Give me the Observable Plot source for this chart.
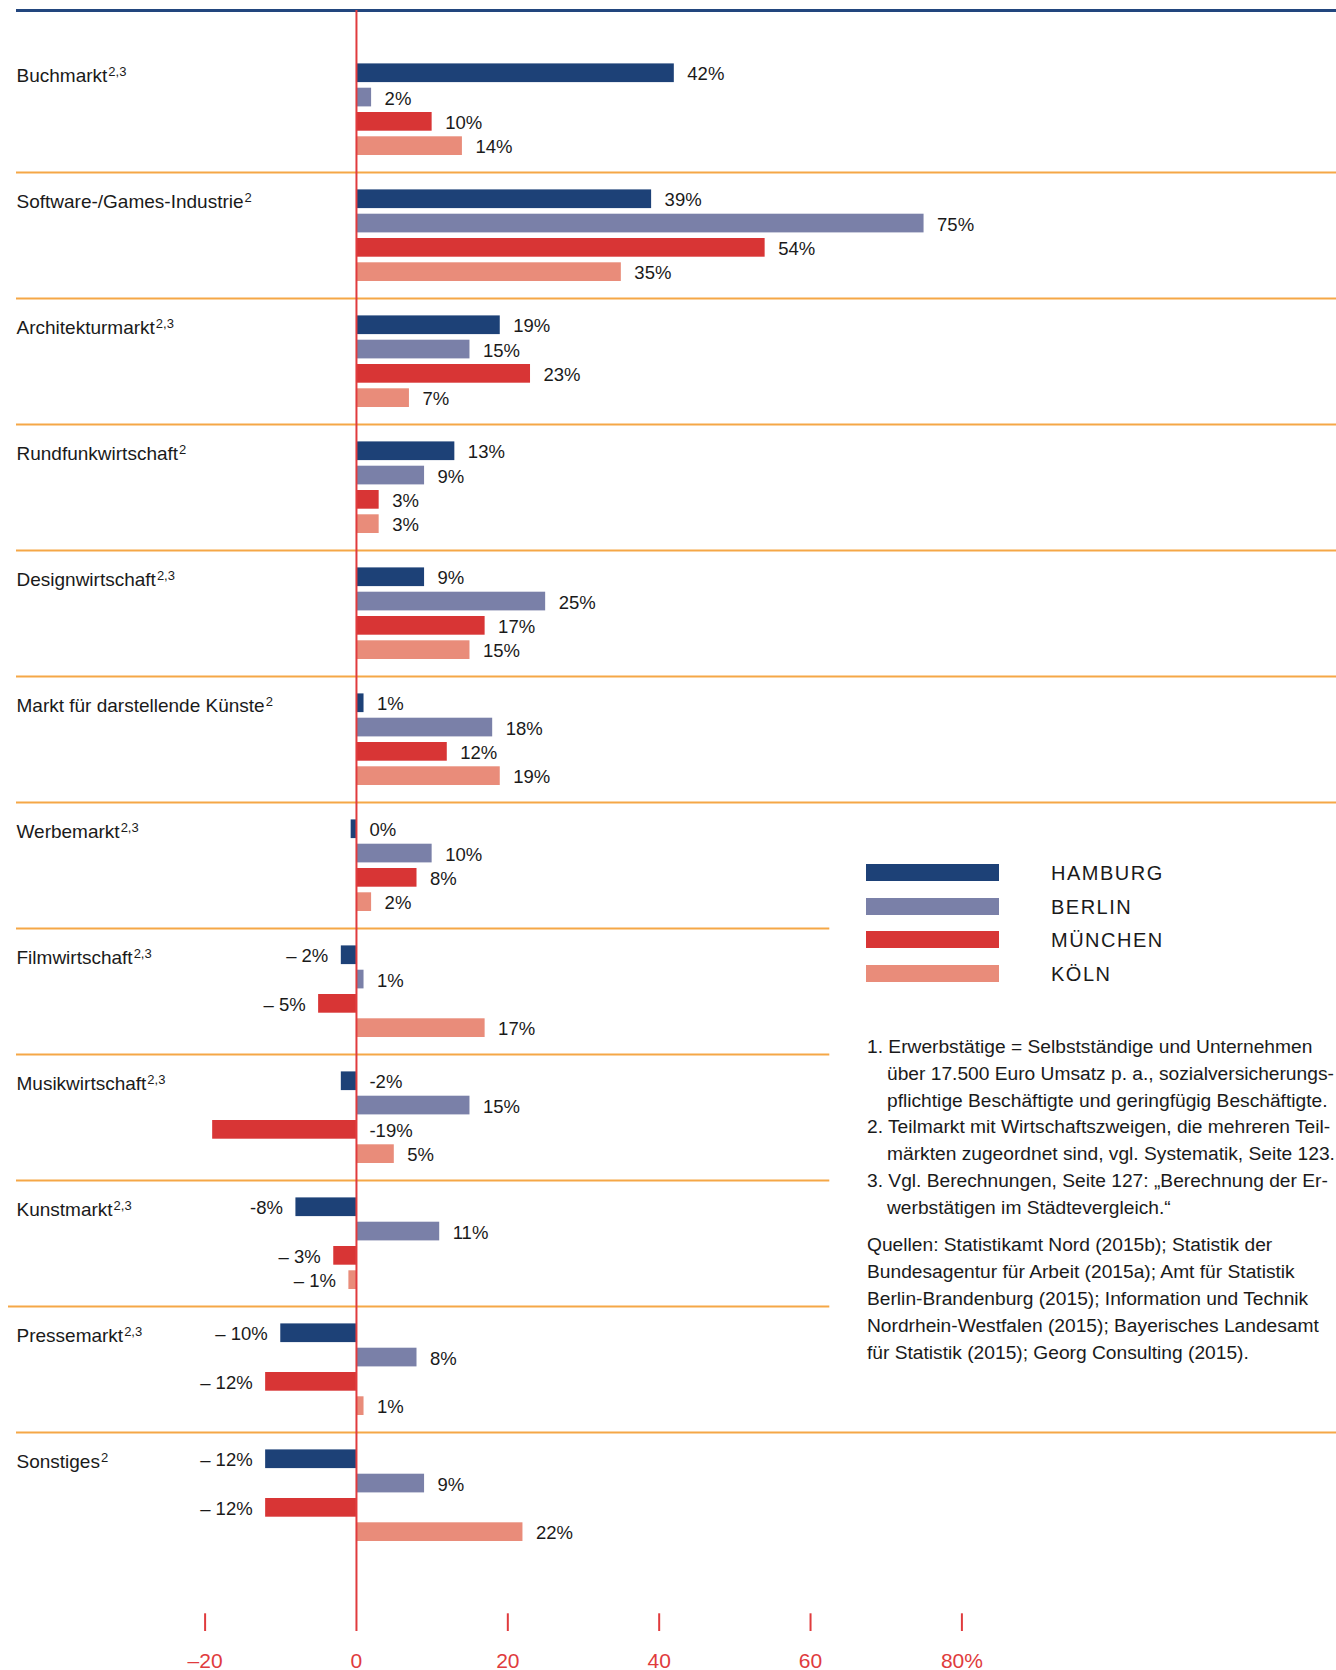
<!DOCTYPE html>
<html>
<head>
<meta charset="utf-8">
<script src="https://cdn.jsdelivr.net/npm/d3@7"></script>
<script src="https://cdn.jsdelivr.net/npm/@observablehq/plot@0.6"></script>
<style>
  html, body { margin: 0; padding: 0; background: #fff; overflow: hidden; }
  #wrap { position: relative; width: 1336px; height: 1670px; }
  #wrap svg { display: block; }
  .legend-row { position: absolute; left: 0; height: 17px; }
  .legend-swatch { position: absolute; left: 0; top: 0; width: 133px; height: 17px; }
  .legend-label { position: absolute; left: 185px; top: 1px; line-height: 17px; font-size: 20px;
    letter-spacing: 1.5px; color: #1a1a1a; font-family: "Liberation Sans", Arial, sans-serif; white-space: nowrap; }
  #notes { position: absolute; left: 867px; top: 1034px; font-family: "Liberation Sans", Arial, sans-serif;
    font-size: 19.2px; line-height: 26.8px; color: #1a1a1a; white-space: nowrap; }
  #notes .fn { padding-left: 20px; text-indent: -20px; }
  #notes .src { margin-top: 10.8px; }
</style>
</head>
<body>
<div id="wrap"></div>
<script>
// ---------------- data ----------------
const categories = [
  "Buchmarkt", "Software-/Games-Industrie", "Architekturmarkt", "Rundfunkwirtschaft",
  "Designwirtschaft", "Markt für darstellende Künste", "Werbemarkt", "Filmwirtschaft",
  "Musikwirtschaft", "Kunstmarkt", "Pressemarkt", "Sonstiges"
];
const categoryNotes = ["2,3", "2", "2,3", "2", "2,3", "2", "2,3", "2,3", "2,3", "2,3", "2,3", "2"];

const cities = ["Hamburg", "Berlin", "München", "Köln"];
const cityColors = ["#1d4177", "#7a80a8", "#d83535", "#e98c7a"];

const hamburg  = [42, 39, 19, 13, 9, 1, -0.7, -2, -2, -8, -10, -12];
const berlin   = [2, 75, 15, 9, 25, 18, 10, 1, 15, 11, 8, 9];
const muenchen = [10, 54, 23, 3, 17, 12, 8, -5, -19, -3, -12, -12];
const koeln    = [14, 35, 7, 3, 15, 19, 2, 17, 5, -1, 1, 22];

const hamburgLabels  = ["42%", "39%", "19%", "13%", "9%", "1%", "0%", "– 2%", "-2%", "-8%", "– 10%", "– 12%"];
const berlinLabels   = ["2%", "75%", "15%", "9%", "25%", "18%", "10%", "1%", "15%", "11%", "8%", "9%"];
const muenchenLabels = ["10%", "54%", "23%", "3%", "17%", "12%", "8%", "– 5%", "-19%", "– 3%", "– 12%", "– 12%"];
const koelnLabels    = ["14%", "35%", "7%", "3%", "15%", "19%", "2%", "17%", "5%", "– 1%", "1%", "22%"];

// negative values whose label sits to the right of the zero line
const labelRightOverrides = [["Werbemarkt", "Hamburg"], ["Musikwirtschaft", "Hamburg"], ["Musikwirtschaft", "München"]];

const xTicks = [-20, 0, 20, 40, 60, 80];
const xTickLabels = ["–20", "0", "20", "40", "60", "80%"];

const shortSeparatorCats = ["Filmwirtschaft", "Musikwirtschaft", "Kunstmarkt"];
const offsetSeparatorCats = ["Pressemarkt"];

const footnotes = [
  ["1. Erwerbstätige = Selbstständige und Unternehmen", "über 17.500 Euro Umsatz p. a., sozialversicherungs-", "pflichtige Beschäftigte und geringfügig Beschäftigte."],
  ["2. Teilmarkt mit Wirtschaftszweigen, die mehreren Teil-", "märkten zugeordnet sind, vgl. Systematik, Seite 123."],
  ["3. Vgl. Berechnungen, Seite 127: „Berechnung der Er-", "werbstätigen im Städtevergleich.“"]
];
const sources = [
  "Quellen: Statistikamt Nord (2015b); Statistik der",
  "Bundesagentur für Arbeit (2015a); Amt für Statistik",
  "Berlin-Brandenburg (2015); Information und Technik",
  "Nordrhein-Westfalen (2015); Bayerisches Landesamt",
  "für Statistik (2015); Georg Consulting (2015)."
];

// ---------------- table ----------------
const seriesValues = [hamburg, berlin, muenchen, koeln];
const seriesLabels = [hamburgLabels, berlinLabels, muenchenLabels, koelnLabels];
const rows = [];
cities.forEach((city, ci) => {
  categories.forEach((cat, k) => {
    const v = seriesValues[ci][k];
    const override = labelRightOverrides.some(([c, s]) => c === cat && s === city);
    rows.push({category: cat, city, value: v, label: seriesLabels[ci][k], right: v >= 0 || override});
  });
});

// ---------------- layout ----------------
const W = 1336, H = 1670;
const groupTop = 46.3, G = 126.0;
const pad = 17.4, barStep = 24.3, barH = 18.7;
const topLineY = 10.3;
const marginTop = 10, marginBottom = H - 1631;
const tickTop = 1613.3;
const shortSepRight = 829.3;

const navy = "#22467e", orange = "#f5a747", red = "#e03b3d", ink = "#1a1a1a";
const font = "'Liberation Sans', Arial, sans-serif";

const marks = [];

// top rule
marks.push(Plot.ruleY([categories[0]], {stroke: navy, strokeWidth: 2.8, dy: topLineY - (groupTop + G / 2)}));

// separators between categories
const sepFull = categories.slice(1).filter(c => !shortSeparatorCats.includes(c) && !offsetSeparatorCats.includes(c));
marks.push(Plot.ruleY(sepFull, {stroke: orange, strokeWidth: 2, dy: -G / 2}));
marks.push(Plot.ruleY(shortSeparatorCats, {stroke: orange, strokeWidth: 2, dy: -G / 2, insetRight: W - shortSepRight}));
marks.push(Plot.ruleY(offsetSeparatorCats, {stroke: orange, strokeWidth: 2, dy: -G / 2, insetRight: W - shortSepRight, insetLeft: -8}));

// bars + value labels
cities.forEach((city, i) => {
  const data = rows.filter(r => r.city === city);
  const top = pad + i * barStep;
  marks.push(Plot.barX(data, {
    y: "category", x: "value", fill: "city",
    insetTop: top, insetBottom: G - top - barH
  }));
  const base = top + barH - 2.4 - G / 2;
  marks.push(Plot.text(data.filter(d => d.right), {
    y: "category", x: d => Math.max(0, d.value), text: "label",
    textAnchor: "start", lineAnchor: "bottom", dx: 13, dy: base,
    fill: ink, fontSize: 18.5, fontFamily: font, ariaLabel: "value-label"
  }));
  marks.push(Plot.text(data.filter(d => !d.right), {
    y: "category", x: "value", text: "label",
    textAnchor: "end", lineAnchor: "bottom", dx: -13, dy: base,
    fill: ink, fontSize: 18.5, fontFamily: font, ariaLabel: "value-label"
  }));
});

// zero line and ticks
marks.push(Plot.ruleX([0], {stroke: red, strokeWidth: 2}));
marks.push(Plot.ruleX(xTicks.filter(d => d !== 0), {stroke: red, strokeWidth: 2, insetTop: tickTop - marginTop}));
marks.push(Plot.text(xTicks, {
  x: d => d, text: (d, i) => xTickLabels[i], frameAnchor: "bottom", lineAnchor: "bottom", dy: 36.3,
  fill: red, fontSize: 21, fontFamily: font, ariaLabel: "tick-label"
}));

// category labels
marks.push(Plot.text(categories, {
  y: d => d, text: d => d, frameAnchor: "left", textAnchor: "start", lineAnchor: "bottom",
  dy: pad + barH - 1 - G / 2, fill: ink, fontSize: 19, fontFamily: font
}));

const chart = Plot.plot({
  width: W, height: H,
  marginTop, marginBottom, marginLeft: 16, marginRight: 0,
  style: {fontFamily: font, background: "#fff", overflow: "visible"},
  x: {domain: [-20, 80], range: [204.6, 961.4], axis: null},
  y: {type: "band", domain: categories, range: [groupTop, groupTop + categories.length * G], padding: 0, axis: null},
  color: {domain: cities, range: cityColors},
  marks
});

const wrap = document.getElementById("wrap");
wrap.appendChild(chart);

// tighter tracking for the numeric labels (the original uses a condensed face)
chart.querySelectorAll('g[aria-label="value-label"] text').forEach(t => t.style.letterSpacing = "-0.6px");
chart.querySelectorAll('g[aria-label="tick-label"] text').forEach(t => t.style.letterSpacing = "-1px");

// superscript footnote marks on the category labels
chart.querySelectorAll("text").forEach(t => {
  const k = categories.indexOf(t.textContent);
  if (k >= 0) {
    const ts = document.createElementNS("http://www.w3.org/2000/svg", "tspan");
    ts.setAttribute("dy", "-5.7");
    ts.setAttribute("dx", "1");
    ts.setAttribute("font-size", "13");
    ts.textContent = categoryNotes[k];
    t.appendChild(ts);
  }
});

// legend
const legend = document.createElement("div");
legend.style.position = "absolute";
legend.style.left = "866px";
legend.style.top = "864px";
cities.forEach((city, i) => {
  const row = document.createElement("div");
  row.className = "legend-row";
  row.style.top = (i * 33.7) + "px";
  const sw = document.createElement("div");
  sw.className = "legend-swatch";
  sw.style.background = cityColors[i];
  const lb = document.createElement("div");
  lb.className = "legend-label";
  lb.textContent = city.toUpperCase();
  row.appendChild(sw);
  row.appendChild(lb);
  legend.appendChild(row);
});
wrap.appendChild(legend);

// footnotes and sources
const notes = document.createElement("div");
notes.id = "notes";
footnotes.forEach(lines => {
  const d = document.createElement("div");
  d.className = "fn";
  d.innerHTML = lines.map(l => l.replace(/&/g, "&amp;").replace(/</g, "&lt;")).join("<br>");
  notes.appendChild(d);
});
const src = document.createElement("div");
src.className = "src";
src.innerHTML = sources.join("<br>");
notes.appendChild(src);
wrap.appendChild(notes);
</script>
</body>
</html>
